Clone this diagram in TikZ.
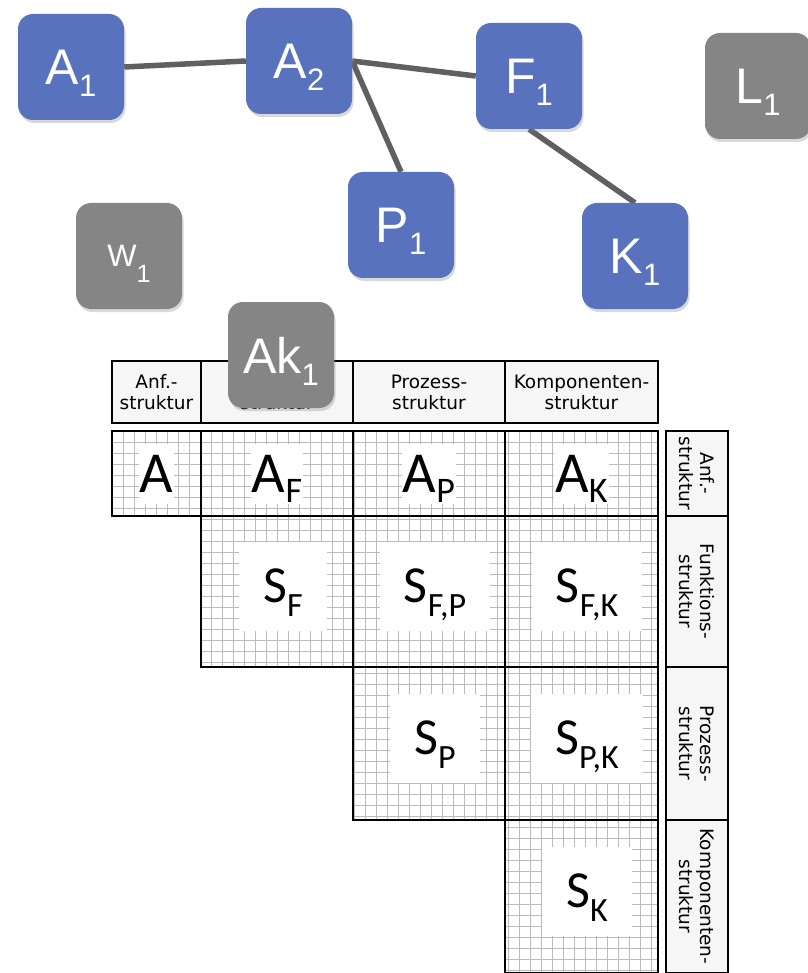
\documentclass[tikz,border=0pt]{standalone}
\usepackage{fontspec}
\setmainfont{Liberation Sans}
\newfontfamily\hdrfont{DejaVu Sans}
\newfontfamily\cellfont{Carlito}
\usetikzlibrary{shadows,backgrounds}

\definecolor{nodeblue}{RGB}{88,114,190}
\definecolor{nodegray}{RGB}{133,133,133}
\definecolor{edgegray}{RGB}{96,96,96}
\definecolor{hdrfill}{RGB}{246,246,246}
\definecolor{gridgray}{RGB}{186,186,186}

% subscript for the element boxes and for the matrix labels
\newcommand{\nsub}[2]{#1\raisebox{-12pt}[0pt][0pt]{\fontsize{31}{31}\selectfont #2}}
\newcommand{\asub}[2]{#1\raisebox{-10pt}[0pt][0pt]{\fontsize{36}{36}\selectfont #2}}
\newcommand{\ssub}[2]{#1\raisebox{-14pt}[0pt][0pt]{\fontsize{34}{34}\selectfont #2}}

\begin{document}
\begin{tikzpicture}[x=1pt, y=-1pt,
  blok/.style={rectangle, rounded corners=15pt, minimum width=106pt, minimum height=106pt, inner sep=0pt, text=white, font=\fontsize{50}{50}\selectfont, drop shadow={opacity=0.3, shadow xshift=1.5pt, shadow yshift=-3pt}},
  blueblok/.style={blok, fill=nodeblue},
  grayblok/.style={blok, fill=nodegray},
  link/.style={draw=edgegray, line width=5.5pt},
  hdr/.style={draw, fill=hdrfill, line width=1.2pt, font=\hdrfont\fontsize{18.5}{21}\selectfont, align=center, inner sep=0pt},
  gridline/.style={draw=gridgray, line width=1pt},
  cellline/.style={draw=black, line width=1.5pt},
  alabel/.style={fill=white, inner xsep=1pt, inner ysep=0pt, text height=48pt, text depth=12pt, anchor=base, font=\cellfont\fontsize{58}{58}\selectfont},
  slabel/.style={fill=white, inner xsep=24pt, inner ysep=0pt, minimum width=88pt, minimum height=89pt, font=\cellfont\fontsize{52}{52}\selectfont}]

  \useasboundingbox (0,0) rectangle (807,973);

  % grid of the matrix
  \begin{scope}
    \clip (112,431) -| (658,973) -| (505,820) -| (353,667) -| (201,516) -| (112,431) -- cycle;
    \foreach \k in {0,...,50}
      \draw[gridline] (112+11*\k,431) -- (112+11*\k,973);
    \foreach \k in {0,...,49}
      \draw[gridline] (112,431+11*\k) -- (658,431+11*\k);
  \end{scope}

  % matrix labels
  \node[alabel] (a) at (156.5,492) {A};
  \node[alabel] (af) at (277,492) {\asub{A}{F}};
  \node[alabel] (ap) at (429,492) {\asub{A}{P}};
  \node[alabel] (ak) at (581.5,492) {\asub{A}{K}};
  \node[slabel] (sf) at (283,586) {\ssub{S}{F}};
  \node[slabel] (sfp) at (435,586) {\ssub{S}{F,P}};
  \node[slabel] (sfk) at (587,586) {\ssub{S}{F,K}};
  \node[slabel] (sp) at (435,738) {\ssub{S}{P}};
  \node[slabel] (spk) at (587,738) {\ssub{S}{P,K}};
  \node[slabel] (sk) at (587,891) {\ssub{S}{K}};

  % cell borders
  \draw[cellline] (112,431) -| (658,973) -| (505,820) -| (353,667) -| (201,516) -| (112,431) -- cycle;
  \draw[cellline] (201,431) -- (201,516);
  \draw[cellline] (353,431) -- (353,667);
  \draw[cellline] (505,431) -- (505,820);
  \draw[cellline] (201,516) -- (658,516);
  \draw[cellline] (353,667) -- (658,667);
  \draw[cellline] (505,820) -- (658,820);

  % headers
  \node[hdr, minimum width=89pt, minimum height=62pt] (hanf) at (156.5,392) {Anf.-\\struktur};
  \node[hdr, minimum width=152pt, minimum height=62pt] (hfkt) at (277,392) {Funktions-\\struktur};
  \node[hdr, minimum width=152pt, minimum height=62pt] (hpro) at (429,392) {Prozess-\\struktur};
  \node[hdr, minimum width=153pt, minimum height=62pt] (hkom) at (581.5,392) {Komponenten-\\struktur};
  \node[hdr, rotate=-90, minimum width=85pt, minimum height=62pt] (vanf) at (697,473.5) {Anf.-\\struktur};
  \node[hdr, rotate=-90, minimum width=151pt, minimum height=62pt] (vfkt) at (697,591.5) {Funktions-\\struktur};
  \node[hdr, rotate=-90, minimum width=153pt, minimum height=62pt] (vpro) at (697,743.5) {Prozess-\\struktur};
  \node[hdr, rotate=-90, minimum width=152pt, minimum height=62pt] (vkom) at (697,896.5) {Komponenten-\\struktur};

  % elements
  \node[blueblok] (A1) at (71,67) {\nsub{A}{1}};
  \node[blueblok] (A2) at (299,61) {\nsub{A}{2}};
  \node[blueblok] (F1) at (529,76) {\nsub{F}{1}};
  \node[grayblok] (L1) at (758,86) {\nsub{L}{1}};
  \node[blueblok] (P1) at (401,225) {\nsub{P}{1}};
  \node[blueblok] (K1) at (635,256) {\nsub{K}{1}};
  \node[grayblok] (W1) at (129,256) {\fontsize{31}{31}\selectfont W\raisebox{-16pt}[0pt][0pt]{\fontsize{25}{25}\selectfont 1}};
  \node[grayblok] (Ak1) at (281,355) {\nsub{Ak}{1}};

  \begin{scope}[on background layer]
    \draw[link] (A1.east) -- (A2.west);
    \draw[link] (A2.east) -- (F1.west);
    \draw[link] (A2.east) -- (P1.north);
    \draw[link] (F1.south) -- (K1.north);
  \end{scope}
\end{tikzpicture}
\end{document}
